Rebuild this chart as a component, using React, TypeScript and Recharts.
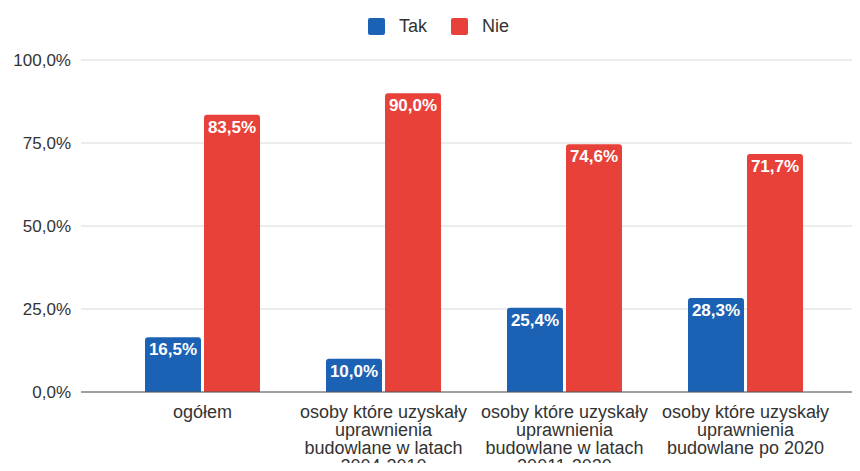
import { Bar, BarChart, CartesianGrid, LabelList, Legend, XAxis, YAxis } from "recharts";

const categories = [
  "ogółem",
  "osoby które uzyskały\nuprawnienia\nbudowlane w latach\n2004-2010",
  "osoby które uzyskały\nuprawnienia\nbudowlane w latach\n20011-2020",
  "osoby które uzyskały\nuprawnienia\nbudowlane po 2020",
];
const takValues = [16.5, 10.0, 25.4, 28.3];
const nieValues = [83.5, 90.0, 74.6, 71.7];
const yTicks = [0, 25, 50, 75, 100];

const BLUE = "#1c62b4";
const RED = "#e8413a";
const FONT = "'Liberation Sans', Arial, sans-serif";

const data = categories.map((name, i) => ({ name, tak: takValues[i], nie: nieValues[i] }));

const pct = (v: number) => `${v.toFixed(1).replace(".", ",")}%`;

const CategoryTick = ({ x, y, payload }: any) => {
  const lines = String(payload.value).split("\n");
  return (
    <text x={x} y={y} textAnchor="middle" fill="#333" fontSize={18} fontFamily={FONT}>
      {lines.map((line, i) => (
        <tspan key={i} x={x} dy={i === 0 ? 26 : 18}>
          {line}
        </tspan>
      ))}
    </text>
  );
};

const LegendContent = () => (
  <div style={{ height: 52, position: "relative", fontFamily: FONT, fontSize: 18, color: "#333" }}>
    {[
      { label: "Tak", color: BLUE, left: 368 },
      { label: "Nie", color: RED, left: 451 },
    ].map((it) => (
      <div
        key={it.label}
        style={{ position: "absolute", left: it.left, top: 8, display: "flex", alignItems: "center" }}
      >
        <span style={{ width: 17, height: 17, background: it.color, borderRadius: 2, display: "inline-block" }} />
        <span style={{ marginLeft: 14 }}>{it.label}</span>
      </div>
    ))}
  </div>
);

export default function App() {
  return (
    <div style={{ margin: -8, width: 860, height: 471, background: "#fff" }}>
      <BarChart
        width={860}
        height={471}
        data={data}
        margin={{ top: 8, right: 0, bottom: 0, left: 0 }}
        barGap={3}
        barSize={56}
      >
        <Legend verticalAlign="top" content={<LegendContent />} />
        <CartesianGrid vertical={false} stroke="#d9d9d9" />
        <XAxis
          dataKey="name"
          height={79}
          interval={0}
          tickLine={false}
          tickSize={0}
          tickMargin={0}
          axisLine={{ stroke: "#555" }}
          padding={{ left: 31, right: 24 }}
          tick={<CategoryTick />}
        />
        <YAxis
          width={81}
          domain={[0, 100]}
          ticks={yTicks}
          tickFormatter={pct}
          axisLine={false}
          tickLine={false}
          tickSize={0}
          tickMargin={10}
          tick={{ fill: "#333", fontSize: 17, fontFamily: FONT }}
        />
        <Bar dataKey="tak" name="Tak" fill={BLUE} radius={[3, 3, 0, 0]} isAnimationActive={false}>
          <LabelList
            dataKey="tak"
            position="insideTop"
            offset={6}
            formatter={(v: any) => pct(Number(v))}
            fill="#fff"
            fontSize={17}
            fontWeight="bold"
            fontFamily={FONT}
          />
        </Bar>
        <Bar dataKey="nie" name="Nie" fill={RED} radius={[3, 3, 0, 0]} isAnimationActive={false}>
          <LabelList
            dataKey="nie"
            position="insideTop"
            offset={6}
            formatter={(v: any) => pct(Number(v))}
            fill="#fff"
            fontSize={17}
            fontWeight="bold"
            fontFamily={FONT}
          />
        </Bar>
      </BarChart>
    </div>
  );
}
